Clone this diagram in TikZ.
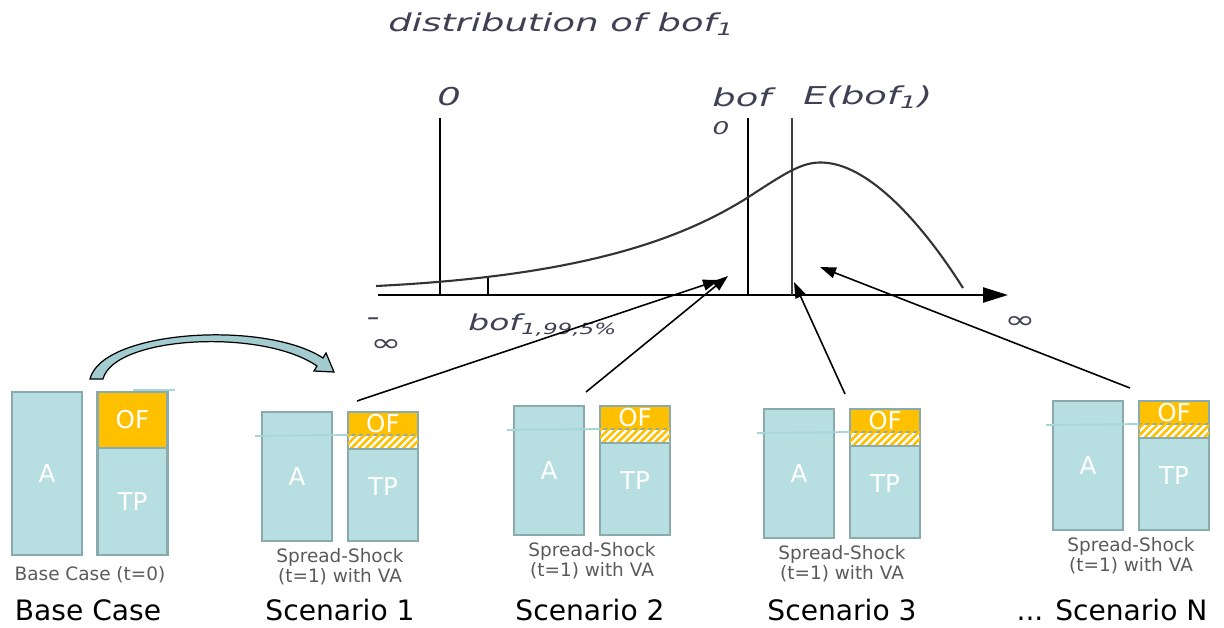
\documentclass[tikz,border=0pt]{standalone}
\usepackage{fontspec}
\setmainfont{DejaVu Sans}
\usetikzlibrary{arrows.meta, positioning, patterns.meta}
\definecolor{colorCaja}{HTML}{B7DEE1}
\definecolor{bordeCaja}{HTML}{89ABAD}
\definecolor{colorOF}{HTML}{FFC000}
\definecolor{lineaClara}{HTML}{A6D6DA}
\definecolor{textoGris}{HTML}{5A5A5A}
\definecolor{textoGraf}{HTML}{404055}
\definecolor{colorCurva}{HTML}{A3CCD0}
\newcommand{\ancho}[1]{\scalebox{1.5}[1]{#1}}

\tikzdeclarepattern{
  name=rayasOF,
  bounding box={(0,-0.75pt) and (3pt,0.75pt)},
  tile size={(3pt,3pt)},
  tile transformation={rotate=45},
  code={\draw[line width=1.5pt] (0,0) -- (3pt,0);}
}

\begin{document}
\begin{tikzpicture}[x=0.02cm, y=-0.02cm,
        caja/.style={draw=bordeCaja, fill=colorCaja, line width=1.4pt, inner sep=0pt, outer sep=0pt,
            minimum width=1.4cm, text=white, font=\fontsize{14}{16}\selectfont},
        cajaOF/.style={caja, fill=colorOF},
        rayas/.style={caja, fill=white, postaction={pattern=rayasOF, pattern color=colorOF}},
        pie/.style={text=textoGris, align=center, font=\fontsize{10.5}{11.5}\selectfont},
        titEsc/.style={font=\fontsize{16}{19}\selectfont},
        lblGraf/.style={text=textoGraf, inner sep=0pt, font=\fontsize{14}{16}\selectfont\itshape},
        vert/.style={line width=1.5pt},
        eje/.style={-{Triangle[length=0.5cm, width=0.3cm]}, line width=1.3pt},
        flecha/.style={-{Triangle[length=0.32cm, width=0.22cm]}, line width=0.9pt}
    ]
    \useasboundingbox (0,0) rectangle (1224,628);

    % distribution of bof_1
    \node[lblGraf, anchor=west] (titulo) at (388,24) {\ancho{distribution of bof\textsubscript{1}}};
    \draw[eje] (378,295) coordinate (ejeIzq) -- (1008,295) coordinate (ejeDer);
    \draw[vert] (440,118) -- (440,295);
    \draw[vert] (748,118) -- (748,295);
    \draw[vert, black!75] (792,118) -- (792,295);
    \draw[line width=1.2pt] (488,276) -- (488,295);
    \draw[line width=1.2pt, black!80] (376,286) .. controls (580,276) and (680,240) .. (747,198)
        .. controls (790,170) and (805,160) .. (828,163) .. controls (870,168) and (920,220) .. (963,288);
    \node[lblGraf] (cero) at (449,97) {\ancho{0}};
    \node[lblGraf, anchor=west] (bof) at (712,97) {\ancho{bof}};
    \node[lblGraf] (bofSub) at (721,128) {\ancho{\fontsize{10}{12}\selectfont 0}};
    \node[lblGraf, anchor=west] (esp) at (803,97) {\ancho{E(bof\textsubscript{1})}};
    \node[lblGraf] (menos) at (373,322) {\ancho{-}};
    \node[lblGraf] (infIzq) at (386,346) {\ancho{∞}};
    \node[lblGraf, anchor=west, font=\fontsize{12.5}{14}\selectfont\itshape] (var) at (468,325)
        {\ancho{bof\textsubscript{1,99,5\%}}};
    \node[lblGraf] (infDer) at (1020,323) {\ancho{∞}};
    \coordinate (t1) at (719,280);
    \coordinate (t2) at (728,276);
    \coordinate (t3) at (794,282);
    \coordinate (tN) at (820,267);

    % base case
    \node[caja, minimum height=3.26cm] (a0) at (47,473.5) {A};
    \node[cajaOF, minimum height=1.12cm] (of0) at (132.5,420) {OF};
    \node[caja, minimum height=2.14cm, below=0pt of of0] (tp0) {TP};
    \draw[lineaClara, line width=1pt] (133,390) -- (175,390);
    \node[pie] (pie0) at (90,575) {Base Case (t=0)};
    \node[titEsc] (tit0) at (88,610) {Base Case};
    \draw[fill=colorCurva, line width=0.7pt] (90,379) .. controls (102,330) and (265,320) .. (323,358)
        -- (326,353) -- (334,372) -- (314,371) -- (317,366)
        .. controls (262,328) and (114,336) .. (103,379) -- cycle;

    % scenarios
    \foreach \n/\x/\y/\sx/\sy/\lx/\lab in {1/262/412/357/401/340/{Scenario 1},
            2/514/406/586/392/590/{Scenario 2}, 3/764/409/845/394/842/{Scenario 3},
            N/1053/401/1130/388/1112/{... Scenario N}}{
        \node[caja, minimum height=2.58cm] (a\n) at (\x+35,\y+64.5) {A};
        \node[cajaOF, minimum height=0.46cm] (of\n) at (\x+121,\y+11.5) {OF};
        \node[rayas, minimum height=0.28cm, below=0pt of of\n] (ra\n) {};
        \node[caja, minimum height=1.84cm, below=0pt of ra\n] (tp\n) {\raisebox{10pt}{TP}};
        \draw[lineaClara, line width=1pt] (\x-7,\y+24) -- (of\n.south west);
        \node[pie] (pie\n) at (\x+78,\y+155) {Spread-Shock\\(t=1) with VA};
        \node[titEsc] (tit\n) at (\lx,610) {\lab};
        \coordinate (o\n) at (\sx,\sy);
        \draw[flecha] (o\n) -- (t\n);
    }
\end{tikzpicture}
\end{document}
